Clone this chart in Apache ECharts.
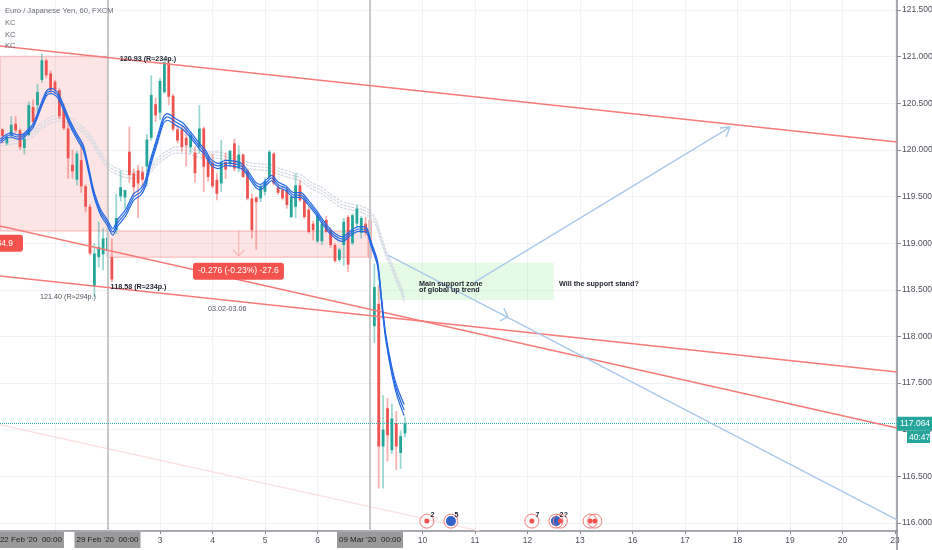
<!DOCTYPE html>
<html><head><meta charset="utf-8">
<style>html,body{margin:0;padding:0;background:#fff}#c{width:932px;height:550px}</style>
<script src="https://cdn.jsdelivr.net/npm/echarts@6/dist/echarts.min.js"></script>
</head><body><div id="c"></div>
<script>
const headerLines = ["Euro / Japanese Yen, 60, FXCM","KC","KC","KC"];
const yTicks = [116,116.5,117,117.5,118,118.5,119,119.5,120,120.5,121,121.5];
const xTickBars = [12,24,36,48,60,72,84,96,108,120,132,144,156,168,180,192,204];
const xLabelBars = [6.5,24,36,48,60,72,84,96,108,120,132,144,156,168,180,192,204];
const xLabels = ["22 Feb '20  00:00","29 Feb '20  00:00","3","4","5","6","09 Mar '20  00:00","10","11","12","13","16","17","18","19","20","23"];
const opens = [120.22,120.07,120.16,120.28,120.21,120.02,120.16,120.46,120.48,120.75,
120.96,120.82,120.73,120.64,120.44,120.23,119.84,119.68,119.89,119.61,
119.39,118.54,118.85,118.88,118.92,118.85,119.14,119.50,119.49,119.98,
119.75,119.78,119.76,119.82,120.13,120.49,120.40,120.62,120.93,120.58,
120.22,120.22,120.13,120.03,119.97,120.03,120.23,119.91,119.86,119.68,
119.64,119.87,119.86,120.07,119.80,119.95,119.78,119.48,119.49,119.48,
119.55,119.71,119.96,119.60,119.57,119.57,119.28,119.39,119.62,119.46,
119.36,119.21,119.02,119.02,119.25,119.14,118.98,118.82,118.98,119.28,
119.00,119.21,119.11,119.21,119.25,118.11,118.35,116.82,117.23,116.78,
117.07,116.75,116.96];
const closes = [120.15,120.14,120.27,120.21,120.03,120.12,120.48,120.30,120.62,120.96,
120.80,120.64,120.64,120.36,120.23,119.91,119.77,119.96,119.61,119.39,
118.89,118.89,118.96,119.05,119.06,118.61,119.27,119.60,119.57,119.73,
119.60,119.64,119.68,120.11,120.59,120.37,120.74,120.94,120.57,120.22,
120.10,120.03,120.05,120.16,119.75,120.23,119.82,119.71,119.61,119.53,
119.87,119.79,119.99,119.80,119.95,119.71,119.48,119.14,119.44,119.61,
119.66,119.98,119.64,119.54,119.48,119.41,119.50,119.62,119.46,119.28,
119.12,119.14,119.30,119.21,119.12,118.98,118.81,118.93,119.23,118.77,
119.30,119.37,119.27,119.11,118.84,118.53,116.82,117.00,116.94,117.12,
116.82,116.93,117.07];
const lows = [120.07,120.05,120.12,120.18,120.00,119.95,120.15,120.27,120.40,120.72,
120.77,120.60,120.60,120.33,120.21,119.69,119.69,119.62,119.54,119.33,
118.87,118.42,118.74,118.71,118.85,118.58,119.10,119.45,119.37,119.65,
119.49,119.27,119.60,119.61,120.10,120.30,120.32,120.60,120.48,120.20,
120.07,119.98,119.82,119.96,119.65,119.96,119.55,119.66,119.59,119.46,
119.55,119.69,119.82,119.77,119.76,119.70,119.46,119.05,118.93,119.44,
119.51,119.69,119.62,119.52,119.46,119.37,119.27,119.27,119.44,119.26,
119.10,119.03,119.00,118.98,119.11,118.95,118.79,118.80,118.76,118.69,
118.98,119.16,119.05,119.08,118.80,117.93,116.37,116.37,116.66,116.74,
116.57,116.58,116.92];
const highs = [120.23,120.15,120.36,120.36,120.23,120.18,120.52,120.54,120.71,121.03,
120.98,120.85,120.75,120.66,120.50,120.32,120.00,119.99,120.05,119.63,
119.42,119.00,119.23,119.16,119.15,119.05,119.53,119.78,119.57,120.25,
119.80,119.84,119.82,120.17,120.80,120.56,120.77,120.98,120.97,120.60,
120.27,120.27,120.25,120.20,120.04,120.48,120.25,119.95,119.96,119.75,
120.11,119.97,120.00,120.12,120.05,119.96,119.79,119.53,119.50,119.63,
119.70,120.00,119.98,119.64,119.60,119.60,119.52,119.75,119.68,119.50,
119.40,119.24,119.33,119.23,119.29,119.17,119.00,118.95,119.27,119.30,
119.32,119.41,119.29,119.28,119.29,118.78,118.55,117.37,117.34,117.28,
117.20,116.99,117.14];
const kcBlueBars = [-0.5,1.8,3.4,4.3,5.7,7.1,8.7,10.1,11.2,12.6,14,15.6,17.2,18.5,19.7,20.8,22.4,24,25.2,26.3,28.1,30,31.6,32.7,33.8,35.4,36.8,37.7,39.6,41.2,43,44.8,46.4,47.6,49.2,51,53.3,54.9,56.3,57.9,59,60.4,61.5,63.1,64.7,66.6,68.2,69.8,71.6,73.2,75,76.8,77.8,79.6,81.4,83.2,84.2,85.7,86.8,87.6,89.1,90.3,91.8];
const kcBlueMid = [120.095,120.160,120.138,120.138,120.192,120.267,120.460,120.610,120.631,120.588,120.449,120.267,120.128,120.020,119.784,119.549,119.334,119.216,119.120,119.216,119.323,119.495,119.549,119.645,119.859,120.106,120.320,120.353,120.299,120.256,120.160,120.052,119.967,119.870,119.827,119.859,119.849,119.817,119.731,119.624,119.602,119.656,119.699,119.624,119.591,119.516,119.516,119.441,119.334,119.227,119.120,119.055,119.045,119.109,119.152,119.141,118.999,118.787,118.316,117.994,117.608,117.394,117.211];
const kcBlueHalf = [.022,.022,.022,.022,.022,.022,.025,.025,.028,.028,.028,.028,.028,.028,.028,.028,.03,.03,.035,.035,.035,.035,.035,.035,.035,.035,.035,.035,.035,.035,.03,.03,.03,.03,.028,.028,.028,.028,.028,.028,.028,.028,.028,.028,.025,.025,.025,.025,.025,.025,.025,.025,.025,.025,.025,.025,.025,.025,.03,.03,.04,.05,.06];
const kcGrayBars = [-0.5,3.4,6.4,8.7,11,13.3,15.6,17.8,20.1,22.4,24,24.7,27,29.3,31.6,33.2,35,37.3,39.6,41.9,44.1,46.4,48.7,52.2,54.4,56.7,59,61.3,63.6,65.9,68.2,70.4,72.7,75,77.3,79.6,81.9,83.7,85.3,86.4,87.6,88.7,89.9,91,91.9];
const kcGrayMid = [120.074,120.106,120.160,120.245,120.320,120.342,120.310,120.235,120.127,119.945,119.838,119.806,119.752,119.731,119.731,119.752,119.859,119.945,119.999,119.999,119.967,119.945,119.945,119.913,119.870,119.827,119.817,119.806,119.763,119.731,119.699,119.624,119.570,119.495,119.420,119.388,119.366,119.323,119.227,119.066,118.895,118.787,118.637,118.519,118.391];
const kcGrayHalf = [.033,.033,.033,.033,.033,.033,.033,.033,.033,.033,.033,.033,.033,.033,.033,.033,.033,.033,.033,.033,.033,.033,.033,.033,.033,.033,.033,.033,.033,.033,.033,.033,.033,.033,.033,.033,.033,.033,.033,.033,.033,.033,.033,.033,.033];
const channelLines = [
  [[-0.571,121.114],[204.46,120.085]],
  [[-0.571,119.184],[204.46,117.018]],
  [[-0.571,118.648],[204.46,117.619]]
];
const paleLine = [[-0.571,117.051],[109.1,115.914]];
const blueLines = [
  [[88.1,118.873],[204.46,116.032]],
  [[108,118.584],[166.3,120.245]],
  [[114.6,118.305],[115.5,118.21],[113.7,118.166]],
  [[164,120.235],[166.3,120.245],[165.4,120.138]]
];
const dropArrow = [[[54,119.14],[54,118.86]],[[52.7,118.93],[54,118.86],[55.3,118.93]]];
const redZones = [[[-0.571,121.0],[24,119.13]],[[24,119.13],[83.5,118.85]]];
const greenZone = [[85.6,118.79],[126,118.39]];
const refBars = [24,84];
const lastPrice = 117.064;
const countdown = "40:47";
const notes = [
 {t:"120.93 (R≈234p.)",b:26.8,p:120.975,bold:true},
 {t:"118.58 (R≈234p.)",b:24.7,p:118.53,bold:true},
 {t:"121.40 (R≈294p.)",b:8.6,p:118.42,bold:false},
 {t:"03.02-03.06",b:47,p:118.295,bold:false},
 {t:"Main support zone",b:95.2,p:118.56,bold:true},
 {t:"of global up trend",b:95.2,p:118.495,bold:true},
 {t:"Will the support stand?",b:127.2,p:118.56,bold:true}
];
const tags = [
 {t:"-0.276 (-0.23%) -27.6",b:53.7,p:118.7},
 {t:"84.9",b:2.9,p:119.0}
];
const eventBars = [97,102.5,121,126.5,127.5,134.3,135.4];
const eventKinds = ["r","b","r","b","r","r","r"];
const eventNums = ["2","5","7","2","?","",""];
const eventPrice = 116.02;

const teal="#26a69a", red="#ef5350";
const sans='"Liberation Sans"';
const chart = echarts.init(document.getElementById('c'));
const candleRows = opens.map((o,i)=>[i,o,closes[i],lows[i],highs[i]]);
function kc(name,bars,mid,half,sign,color,z,w,type){
  return {name,type:'line',data:bars.map((b,i)=>[b,+(mid[i]+sign*half[i]).toFixed(3)]),smooth:0.25,symbol:'none',
    lineStyle:{color,width:w,type:type||'solid'},z,silent:true,animation:false};
}
const series=[];
series.push({type:'line',data:[[0,120],[1,120]],symbol:'none',lineStyle:{width:0},z:1,silent:true,animation:false,
  markArea:{silent:true,animation:false,data:[
    ...redZones.map(z=>[{coord:z[0],itemStyle:{color:'rgba(245,100,100,0.17)',borderColor:'rgba(245,120,120,0.35)',borderWidth:1.5}},{coord:z[1]}]),
    [{coord:greenZone[0],itemStyle:{color:'rgba(100,230,100,0.16)',borderWidth:0}},{coord:greenZone[1]}]
  ]}});
series.push({type:'line',data:[[0,120],[1,120]],symbol:'none',lineStyle:{width:0},z:3,silent:true,animation:false,
  markLine:{silent:true,symbol:'none',animation:false,precision:3,data:[
    ...refBars.map(b=>({xAxis:b,lineStyle:{color:'#c8c8c8',width:2,type:'solid'},label:{show:false}})),
    {yAxis:lastPrice,lineStyle:{color:'#2bb5a8',width:1,type:[1,1]},
     label:{show:true,position:'end',distance:0,formatter:p=>p.value.toFixed(3),color:'#fff',backgroundColor:teal,
       fontSize:8.5,fontFamily:sans,padding:[3,3,2,3]}}
  ]}});
series.push({name:'EURJPY',type:'custom',data:candleRows,z:2,clip:true,animation:false,silent:true,
  encode:{x:0,y:[1,2,3,4]},
  renderItem(params,api){
    const i=api.value(0),o=api.value(1),c=api.value(2),l=api.value(3),h=api.value(4);
    const up=c>=o, col=up?teal:red, pale=up?'rgba(38,166,154,0.45)':'rgba(239,83,80,0.45)';
    const top=api.coord([i,Math.max(o,c)]), bot=api.coord([i,Math.min(o,c)]), hi=api.coord([i,h]), lo=api.coord([i,l]);
    return {type:'group',children:[
      {type:'line',shape:{x1:top[0],y1:hi[1],x2:top[0],y2:lo[1]},style:{stroke:pale,lineWidth:1.8}},
      {type:'rect',shape:{x:top[0]-1.4,y:top[1],width:2.8,height:Math.max(1,bot[1]-top[1])},style:{fill:col}}
    ]};
  }});
[-1,0,1].forEach(s=>series.push(kc('KC gray',kcGrayBars,kcGrayMid,kcGrayHalf,s,'#d3d9e3',1.2,1.2,[3,1])));
[-1,0,1].forEach(s=>series.push(kc('KC blue',kcBlueBars,kcBlueMid,kcBlueHalf,s,'#2468e4',6,1.2)));
const lineStd=(data,color,w,z)=>({type:'line',data,symbol:'none',lineStyle:{color,width:w},z,silent:true,animation:false});
channelLines.forEach(d=>series.push(lineStd(d,'#f77a78',1.4,5)));
series.push(lineStd(paleLine,'#fcdcdc',1.2,3));
blueLines.forEach(d=>series.push(lineStd(d,'#a9c9ec',1.4,5)));
dropArrow.forEach(d=>series.push(lineStd(d,'#f9b4b2',1.2,5)));
series.push({type:'custom',data:notes.map((n,i)=>[n.b,n.p,i]),z:10,clip:false,animation:false,silent:true,encode:{x:0,y:1},
  renderItem(params,api){
    const n=notes[api.value(2)], pt=api.coord([api.value(0),api.value(1)]);
    return {type:'text',x:pt[0],y:pt[1],style:{text:n.t,fill:n.bold?'#1e222d':'#50535e',font:n.bold?'bold 7.2px "Liberation Sans"':'7.2px "Liberation Sans"',textAlign:'left',textVerticalAlign:'middle'}};
  }});
series.push({type:'custom',data:tags.map((n,i)=>[n.b,n.p,i]),z:10,clip:false,animation:false,silent:true,encode:{x:0,y:1},
  renderItem(params,api){
    const n=tags[api.value(2)], pt=api.coord([api.value(0),api.value(1)]), wide=n.t.length>6;
    return {type:'group',children:[
      {type:'rect',shape:{x:wide?pt[0]-44.5:-37,y:pt[1]-8.5,width:wide?91:60,height:17,r:3},style:{fill:'#f4524d'}},
      {type:'text',x:wide?pt[0]+1:13,y:pt[1],style:{text:n.t,fill:'#fff',font:'8.5px "Liberation Sans"',textAlign:wide?'center':'right',textVerticalAlign:'middle'}}
    ]};
  }});
series.push({type:'custom',data:eventBars.map((b,i)=>[b,eventPrice,i]),z:11,clip:false,animation:false,silent:true,encode:{x:0,y:1},
  renderItem(params,api){
    const i=api.value(2), pt=api.coord([api.value(0),api.value(1)]), blue=eventKinds[i]==='b';
    return {type:'group',children:[
      {type:'circle',shape:{cx:pt[0],cy:pt[1],r:7},style:{fill:'none',stroke:'#f77a78',lineWidth:1}},
      {type:'circle',shape:{cx:pt[0],cy:pt[1],r:blue?5:2.5},style:{fill:blue?'#3264c8':'#f4524d'}},
      {type:'text',x:pt[0]+5.5,y:pt[1]-6,style:{text:eventNums[i],fill:'#1e222d',font:'bold 7px "Liberation Sans"',textAlign:'center',textVerticalAlign:'middle'}}
    ]};
  }});

chart.setOption({
  animation:false,backgroundColor:'#fff',
  grid:{left:0,right:35,top:0,bottom:19,containLabel:false,outerBoundsMode:'none'},
  xAxis:{type:'value',min:-0.571,max:204.46,
    axisLine:{show:true,onZero:false,lineStyle:{color:'#8a8d96',width:1.5}},
    axisTick:{show:true,customValues:xTickBars,length:3,lineStyle:{color:'#8a8d96'}},
    splitLine:{show:true,lineStyle:{color:'#eef3f7',width:1}},
    axisLabel:{show:true,customValues:xLabelBars,margin:1,hideOverlap:false,showMinLabel:true,showMaxLabel:true,color:'#50535e',fontSize:8.5,fontFamily:sans,
      formatter:v=>{const s=xLabels[xLabelBars.indexOf(v)]||'';return s.length>3?'{box|'+s+'}':'{plain|'+s+'}';},
      rich:{box:{backgroundColor:'#9a9a9a',color:'#222',fontSize:8,fontFamily:sans,padding:[4,2,4,2]},
            plain:{color:'#50535e',fontSize:8.5,fontFamily:sans,padding:[4,0,4,0]}}}
  },
  yAxis:{type:'value',position:'right',min:115.914,max:121.607,
    axisLine:{show:true,onZero:false,lineStyle:{color:'#8a8d96',width:1.5}},
    axisTick:{show:true,customValues:yTicks,length:4,lineStyle:{color:'#8a8d96'}},
    splitLine:{show:true,lineStyle:{color:'#eef3f7',width:1}},
    axisLabel:{show:true,customValues:yTicks,margin:5,color:'#50535e',fontSize:8.5,fontFamily:sans,formatter:v=>v.toFixed(3)}
  },
  graphic:[
    ...headerLines.map((t,i)=>({type:'text',left:5,top:[7,19,31,42][i],z:20,style:{text:t,fill:'#6a6d78',font:'7.6px '+sans}})),
    {type:'line',z:20,shape:{x1:897,y1:531,x2:897,y2:550},style:{stroke:'#8a8d96',lineWidth:1.5}},
    {type:'rect',z:20,shape:{x:907,y:431,width:23,height:12},style:{fill:teal}},
    {type:'text',z:21,left:909,top:433,style:{text:countdown,fill:'#fff',font:'8.5px '+sans}}
  ],
  series
});
</script></body></html>
